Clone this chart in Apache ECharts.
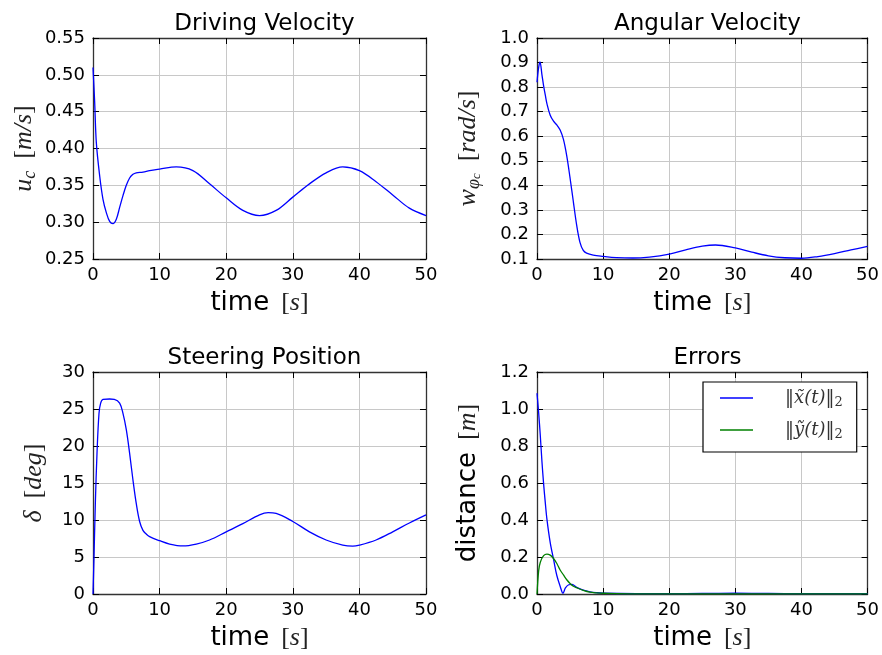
<!DOCTYPE html>
<html><head><meta charset="utf-8">
<script src="https://cdn.jsdelivr.net/npm/echarts@6/dist/echarts.min.js"></script>
<style>html,body{margin:0;padding:0;background:#fff}#c{width:882px;height:655px}</style>
</head><body><div id="c"></div>
<script>
// ---- data ----
const dvTime  = [0, 0.25, 0.5, 1, 1.5, 2, 2.5, 3, 3.5, 4, 4.5, 5, 5.5, 6, 6.5, 7.5, 8.5, 10, 12.5, 15, 17.5, 20, 22.5, 25, 27.5, 30, 32.5, 35, 37.5, 40, 42.5, 45, 47.5, 50];
const dvValue = [0.510, 0.463, 0.408, 0.363, 0.331, 0.313, 0.301, 0.298, 0.304, 0.320, 0.336, 0.350, 0.360, 0.365, 0.367, 0.368, 0.370, 0.372, 0.375, 0.370, 0.352, 0.333, 0.316, 0.309, 0.316, 0.334, 0.352, 0.367, 0.375, 0.370, 0.355, 0.337, 0.319, 0.309];

const avTime  = [0, 0.25, 0.45, 0.75, 1, 1.25, 1.5, 2, 2.5, 3, 3.5, 4, 4.5, 5, 5.5, 6, 6.5, 7, 7.5, 8.5, 10, 12, 14.5, 17, 20, 22.5, 25, 27, 30, 32.5, 35, 37.5, 40, 42.5, 45, 47.5, 50];
const avValue = [0.82, 0.88, 0.903, 0.85, 0.805, 0.768, 0.733, 0.685, 0.661, 0.646, 0.625, 0.587, 0.52, 0.43, 0.333, 0.238, 0.168, 0.135, 0.124, 0.116, 0.111, 0.106, 0.104, 0.108, 0.120, 0.137, 0.152, 0.157, 0.145, 0.128, 0.113, 0.105, 0.103, 0.110, 0.122, 0.137, 0.151];

const stTime  = [0, 0.15, 0.35, 0.6, 0.9, 1.15, 1.5, 2.5, 3.2, 4, 4.5, 5, 5.5, 6, 6.5, 7, 7.5, 8, 8.5, 10, 11.5, 13.5, 15.5, 17.5, 20, 22.5, 25, 26.3, 27.5, 30, 32.5, 35, 37.5, 39, 40, 42.5, 45, 47.5, 50];
const stValue = [0, 5, 12.2, 19, 24.4, 25.8, 26.3, 26.35, 26.3, 25.8, 24.4, 22.2, 19.0, 15.4, 12.2, 9.8, 8.6, 8.1, 7.75, 7.2, 6.75, 6.5, 6.75, 7.3, 8.4, 9.5, 10.7, 11.0, 10.9, 9.8, 8.4, 7.3, 6.6, 6.46, 6.6, 7.3, 8.4, 9.6, 10.7];

const exTime  = [0, 0.25, 0.5, 0.75, 1, 1.25, 1.5, 2, 2.5, 3, 3.5, 3.93, 4.3, 4.8, 5.3, 6, 7, 8, 9, 10, 15, 20, 25, 30, 35, 40, 45, 50];
const exValue = [1.085, 0.98, 0.855, 0.715, 0.595, 0.495, 0.405, 0.278, 0.188, 0.10, 0.042, 0.004, 0.033, 0.050, 0.052, 0.036, 0.021, 0.012, 0.007, 0.004, 0.002, 0.002, 0.003, 0.004, 0.003, 0.002, 0.002, 0.002];

const eyTime  = [0, 0.25, 0.5, 1, 1.5, 2, 2.5, 3, 3.5, 4, 4.5, 5, 5.5, 6, 7, 8, 9, 10, 15, 20, 30, 40, 50];
const eyValue = [0, 0.125, 0.172, 0.207, 0.216, 0.210, 0.192, 0.165, 0.130, 0.103, 0.077, 0.057, 0.042, 0.034, 0.020, 0.010, 0.006, 0.004, 0.001, 0.001, 0.001, 0.001, 0.001];

// axis ranges [min, max, interval]
const timeRange = [0, 50, 10];
const dvRange = [0.25, 0.55, 0.05];
const avRange = [0.1, 1.0, 0.1];
const stRange = [0, 30, 5];
const erRange = [0, 1.2, 0.2];
const yDecimals = [2, 1, 0, 1];

const titles = ['Driving Velocity', 'Angular Velocity', 'Steering Position', 'Errors'];
const legendLabels = ['\u2016x\u0303(t)\u2016', '\u2016\u1EF9(t)\u2016'];

// ---- chart ----
const zip = (a, b) => a.map((t, i) => [t, b[i]]);
const grids = [
  {left: 93, top: 38, width: 333, height: 221},
  {left: 537, top: 38, width: 331, height: 221},
  {left: 93, top: 372, width: 333, height: 222},
  {left: 537, top: 372, width: 331, height: 222}
];
const FR = '#333';
const mathRich = {
  t: {fontFamily: 'DejaVu Sans', fontSize: 26, color: '#000', lineHeight: 30},
  v: {fontFamily: 'Liberation Serif', fontStyle: 'italic', fontSize: 26, color: '#222', lineHeight: 30},
  b: {fontFamily: 'Liberation Serif', fontSize: 26, color: '#222', lineHeight: 30},
  s: {fontFamily: 'Liberation Serif', fontStyle: 'italic', fontSize: 18, color: '#222', lineHeight: 18, verticalAlign: 'bottom'},
  ss: {fontFamily: 'Liberation Serif', fontStyle: 'italic', fontSize: 13, color: '#222', lineHeight: 12, verticalAlign: 'bottom'},
  g: {width: 12}
};
const yNames = [
  '{v|u}{s|c}{g|}{b|[}{v|m/s}{b|]}',
  '{v|w}{s|\u03C6}{ss|c}{g|}{b|[}{v|rad/s}{b|]}',
  '{v|\u03B4}{g|}{b|[}{v|deg}{b|]}',
  '{t|distance}{g|}{b|[}{v|m}{b|]}'
];
const yRanges = [dvRange, avRange, stRange, erRange];
const yGaps = [54, 54, 44, 54];

const xAxis = [], yAxis = [];
grids.forEach((g, i) => {
  const tick = {show: true, inside: true, length: 6, lineStyle: {color: '#000', width: 1}};
  const line = {show: true, onZero: false, lineStyle: {color: FR, width: 1.3}};
  xAxis.push({
    type: 'value', gridIndex: i, min: timeRange[0], max: timeRange[1], interval: timeRange[2], position: 'bottom',
    axisLine: line, axisTick: tick,
    axisLabel: {color: '#000', fontSize: 18, fontFamily: 'DejaVu Sans', margin: 7},
    splitLine: {show: true, lineStyle: {color: '#c8c8c8', width: 1}},
    name: '{t|time}{g|}{b|[}{v|s}{b|]}', nameLocation: 'middle', nameGap: 29,
    nameTextStyle: {rich: mathRich}
  });
  xAxis.push({
    type: 'value', gridIndex: i, min: timeRange[0], max: timeRange[1], interval: timeRange[2], position: 'top',
    axisLine: line, axisTick: tick, axisLabel: {show: false}, splitLine: {show: false}
  });
  const r = yRanges[i];
  yAxis.push({
    type: 'value', gridIndex: i, min: r[0], max: r[1], interval: r[2], position: 'left',
    axisLine: line, axisTick: tick,
    axisLabel: {color: '#000', fontSize: 18, fontFamily: 'DejaVu Sans', margin: 8,
      formatter: v => v.toFixed(yDecimals[i])},
    splitLine: {show: true, lineStyle: {color: '#c8c8c8', width: 1}},
    name: yNames[i], nameLocation: 'middle', nameGap: yGaps[i],
    nameTextStyle: {rich: mathRich}
  });
  yAxis.push({
    type: 'value', gridIndex: i, min: r[0], max: r[1], interval: r[2], position: 'right',
    axisLine: line, axisTick: tick, axisLabel: {show: false}, splitLine: {show: false}
  });
});

function lineSeries(name, data, gi, color) {
  return {
    type: 'line', name: name, data: data, xAxisIndex: gi * 2, yAxisIndex: gi * 2,
    symbol: 'none', smooth: 0.35,
    lineStyle: {color: color, width: 1.3}, itemStyle: {color: color}
  };
}

const option = {
  animation: false,
  backgroundColor: '#fff',
  title: titles.map((t, i) => ({
    text: t, left: grids[i].left + grids[i].width / 2, textAlign: 'center',
    top: i < 2 ? 8 : 342,
    textStyle: {fontFamily: 'DejaVu Sans', fontSize: 23, fontWeight: 'normal', color: '#000'}
  })),
  grid: grids,
  xAxis: xAxis,
  yAxis: yAxis,
  legend: {
    orient: 'vertical', left: 703, top: 382, padding: [7, 14, 11, 17], itemGap: 12,
    itemWidth: 33, itemHeight: 1.5, icon: 'rect',
    borderColor: '#000', borderWidth: 1.2, backgroundColor: '#fff',
    data: legendLabels,
    formatter: n => '{g|}{m|' + n + '}{s|2}',
    textStyle: {rich: {
      g: {width: 27},
      m: {fontFamily: 'DejaVu Serif', fontStyle: 'italic', fontSize: 18, color: '#333', lineHeight: 22},
      s: {fontFamily: 'DejaVu Serif', fontSize: 13, color: '#333', lineHeight: 13, verticalAlign: 'bottom'}
    }}
  },
  series: [
    lineSeries('u', zip(dvTime, dvValue), 0, '#0000ff'),
    lineSeries('w', zip(avTime, avValue), 1, '#0000ff'),
    lineSeries('delta', zip(stTime, stValue), 2, '#0000ff'),
    lineSeries(legendLabels[0], zip(exTime, exValue), 3, '#0000ff'),
    lineSeries(legendLabels[1], zip(eyTime, eyValue), 3, '#008000')
  ]
};
const chart = echarts.init(document.getElementById('c'), null, {renderer: 'canvas'});
chart.setOption(option);
</script></body></html>
